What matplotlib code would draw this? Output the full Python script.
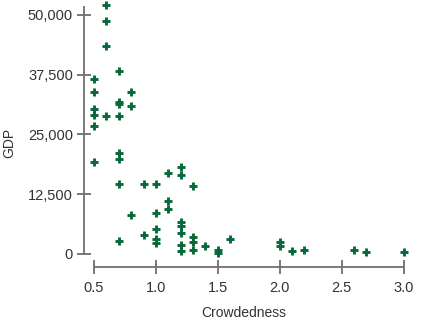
import matplotlib
matplotlib.use('Agg')
import matplotlib.pyplot as plt
from matplotlib.ticker import FuncFormatter

# Crowdedness vs GDP, one entry per country
crowdedness = [0.5, 0.5, 0.5, 0.5, 0.5, 0.5,
               0.6, 0.6, 0.6, 0.6,
               0.7, 0.7, 0.7, 0.7, 0.7, 0.7, 0.7, 0.7,
               0.8, 0.8, 0.8,
               0.9, 0.9,
               1.0, 1.0, 1.0, 1.0, 1.0,
               1.1, 1.1, 1.1,
               1.2, 1.2, 1.2, 1.2, 1.2, 1.2, 1.2,
               1.3, 1.3, 1.3, 1.3,
               1.4, 1.5, 1.5, 1.6,
               2.0, 2.0, 2.1, 2.2, 2.6, 2.7, 3.0]
gdp = [36600, 33800, 30400, 29000, 26800, 19200,
       52100, 48800, 43600, 28900,
       38200, 31800, 31300, 28900, 21000, 19800, 14500, 2600,
       33800, 30900, 8100,
       14500, 4000,
       14500, 8500, 5200, 3100, 2200,
       17000, 11000, 9400,
       18100, 16400, 6600, 5800, 4400, 1900, 600,
       14200, 3400, 2400, 800,
       1600, 800, 100, 3100,
       2400, 1600, 600, 800, 800, 400, 400]

x_ticks = [0.5, 1.0, 1.5, 2.0, 2.5, 3.0]
y_ticks = [0, 12500, 25000, 37500, 50000]

font = ['Liberation Sans', 'DejaVu Sans']

fig = plt.figure(figsize=(4.21, 3.26), dpi=100)
ax = fig.add_axes([0.1998, 0.18, 0.7587, 0.7975])

ax.plot(crowdedness, gdp, linestyle='none', marker='+', markersize=5.2,
        markeredgewidth=2.1, color='#07693a', clip_on=False)

ax.set_xlim(0.42, 3.0)
ax.set_ylim(-2850, 51600)

# detached axis lines
for side in ['top', 'right']:
    ax.spines[side].set_visible(False)
ax.spines['left'].set_bounds(0, 51600)
ax.spines['bottom'].set_bounds(0.5, 3.0)
for side in ['left', 'bottom']:
    ax.spines[side].set_color('#707070')
    ax.spines[side].set_linewidth(1.3)

ax.set_xticks(x_ticks)
ax.set_yticks(y_ticks)
ax.xaxis.set_major_formatter(FuncFormatter(lambda v, p: '%.1f' % v))
ax.yaxis.set_major_formatter(FuncFormatter(lambda v, p: '{:,.0f}'.format(v)))
ax.tick_params(axis='both', direction='inout', length=10, width=1.1,
               color='#555555', labelcolor='#333333')
ax.tick_params(axis='x', pad=5)
ax.tick_params(axis='y', pad=3)
for lab in ax.get_xticklabels() + ax.get_yticklabels():
    lab.set_fontfamily(font)
    lab.set_fontsize(10.5)

ax.set_xlabel('Crowdedness', family=font, fontsize=10, color='#333333')
ax.set_ylabel('GDP', family=font, fontsize=10, color='#333333')
ax.xaxis.set_label_coords(0.5, -0.15)
ax.yaxis.set_label_coords(-0.213, 0.48)

fig.savefig('out.png', dpi=100)
